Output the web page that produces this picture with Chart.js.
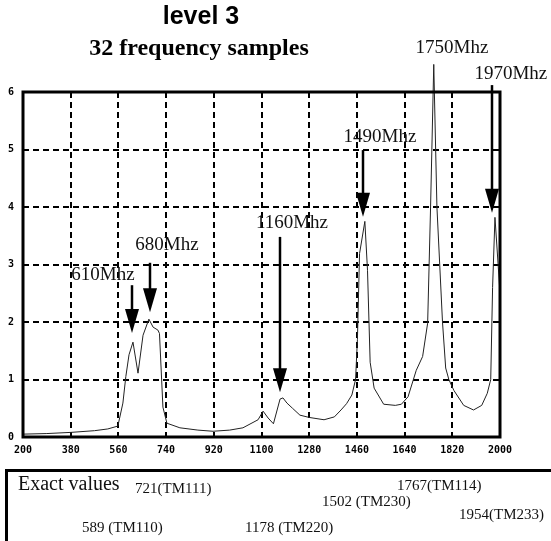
<!DOCTYPE html>
<html>
<head>
<meta charset="utf-8">
<script src="https://cdn.jsdelivr.net/npm/chart.js@4"></script>
<style>
  body { margin: 0; background: #fff; }
  canvas { display: block; }
</style>
</head>
<body>
<canvas id="grafico" width="551" height="541"></canvas>
<script>
// frequency (Mhz) and level
const frecuencias = [200, 290, 380, 470, 520, 558, 577, 588, 600, 615, 634, 653, 675, 691, 709, 715, 728, 743, 792, 860,
    917, 980, 1030, 1087, 1106, 1125, 1145, 1170, 1181, 1196, 1217, 1245, 1280, 1336, 1375, 1400, 1421, 1441, 1455, 1462,
    1470, 1490, 1500, 1510, 1525, 1561, 1605, 1628, 1653, 1684, 1708, 1727, 1738, 1750, 1762, 1783, 1795, 1807, 1826, 1863,
    1900, 1931, 1952, 1965, 1972, 1981, 1990, 2000];
const niveles = [0.05, 0.06, 0.08, 0.11, 0.14, 0.19, 0.59, 1.05, 1.43, 1.65, 1.11, 1.77, 2.05, 1.91, 1.86, 1.80, 0.52, 0.24, 0.16, 0.12,
    0.10, 0.12, 0.16, 0.30, 0.45, 0.33, 0.23, 0.66, 0.68, 0.59, 0.50, 0.38, 0.34, 0.30, 0.35, 0.47, 0.58, 0.73, 1.0, 1.7,
    3.19, 3.75, 2.9, 1.3, 0.85, 0.57, 0.55, 0.57, 0.70, 1.16, 1.40, 1.98, 4.0, 6.48, 4.0, 2.0, 1.2, 1.0, 0.81, 0.55,
    0.47, 0.55, 0.76, 1.0, 2.6, 3.82, 3.2, 2.5];

// peak markers (in chart units): label centre/baseline, arrow x, arrow start, arrow tip
const marcas = [
    { texto: '610Mhz',  tx: 502,  ty: 2.73, ax: 611,  desde: 2.64, hasta: 1.81 },
    { texto: '680Mhz',  tx: 743,  ty: 3.25, ax: 679,  desde: 3.03, hasta: 2.17 },
    { texto: '1160Mhz', tx: 1215, ty: 3.63, ax: 1170, desde: 3.48, hasta: 0.78 },
    { texto: '1490Mhz', tx: 1547, ty: 5.13, ax: 1483, desde: 4.99, hasta: 3.83 },
    { texto: '1750Mhz', tx: 1819, ty: 6.68, ax: null },
    { texto: '1970Mhz', tx: 2041, ty: 6.23, ax: 1970, desde: 6.12, hasta: 3.90 }
];

// "Exact values" box entries
const valoresExactos = ['589 (TM110)', '721(TM111)', '1178 (TM220)', '1502 (TM230)', '1767(TM114)', '1954(TM233)'];
const posValores = [[82, 532], [135, 493], [245, 532], [322, 506], [397, 490], [459, 519]];

const dibujosExtra = {
    id: 'dibujosExtra',
    afterDraw(chart) {
        const ctx = chart.ctx;
        const area = chart.chartArea;
        const sx = chart.scales.x, sy = chart.scales.y;
        ctx.save();

        // plot frame
        ctx.strokeStyle = '#000';
        ctx.lineWidth = 3;
        ctx.strokeRect(area.left, area.top, area.right - area.left, area.bottom - area.top);

        // titles
        ctx.fillStyle = '#000';
        ctx.textAlign = 'center';
        ctx.textBaseline = 'alphabetic';
        ctx.font = 'bold 25px "Liberation Sans", Arial, sans-serif';
        ctx.fillText('level 3', 201, 24);
        ctx.font = 'bold 24px "Liberation Serif", "Times New Roman", serif';
        ctx.fillText('32 frequency samples', 199, 55);

        // peak labels and arrows
        ctx.font = '19px "Liberation Serif", "Times New Roman", serif';
        marcas.forEach(m => {
            ctx.fillStyle = '#111';
            ctx.fillText(m.texto, sx.getPixelForValue(m.tx), sy.getPixelForValue(m.ty));
            if (m.ax === null) return;
            const x = Math.round(sx.getPixelForValue(m.ax));
            const y0 = sy.getPixelForValue(m.desde);
            const y1 = sy.getPixelForValue(m.hasta);
            const largoPunta = 24;
            ctx.strokeStyle = '#000';
            ctx.lineWidth = 2.5;
            ctx.beginPath();
            ctx.moveTo(x, y0);
            ctx.lineTo(x, y1 - largoPunta + 2);
            ctx.stroke();
            ctx.fillStyle = '#000';
            ctx.beginPath();
            ctx.moveTo(x - 7, y1 - largoPunta);
            ctx.lineTo(x + 7, y1 - largoPunta);
            ctx.lineTo(x, y1);
            ctx.closePath();
            ctx.fill();
        });

        // exact values box
        ctx.strokeStyle = '#000';
        ctx.lineWidth = 3;
        ctx.beginPath();
        ctx.moveTo(551, 470.5);
        ctx.lineTo(6.5, 470.5);
        ctx.lineTo(6.5, 541);
        ctx.stroke();
        ctx.textAlign = 'left';
        ctx.fillStyle = '#111';
        ctx.font = '20px "Liberation Serif", "Times New Roman", serif';
        ctx.fillText('Exact values', 18, 490);
        ctx.font = '15px "Liberation Serif", "Times New Roman", serif';
        valoresExactos.forEach((v, i) => ctx.fillText(v, posValores[i][0], posValores[i][1]));

        ctx.restore();
    }
};

const fuenteEjes = { family: '"DejaVu Sans Mono", monospace', size: 10, weight: 'bold' };

new Chart(document.getElementById('grafico').getContext('2d'), {
    type: 'line',
    data: {
        datasets: [{
            data: frecuencias.map((f, i) => ({ x: f, y: niveles[i] })),
            borderColor: '#222',
            borderWidth: 1,
            pointRadius: 0,
            tension: 0,
            fill: false,
            clip: false
        }]
    },
    options: {
        responsive: false,
        animation: false,
        layout: { padding: { top: 92, right: 51, left: 0, bottom: 0 } },
        plugins: {
            legend: { display: false },
            tooltip: { enabled: false },
            title: { display: false }
        },
        scales: {
            x: {
                type: 'linear',
                min: 200,
                max: 2000,
                ticks: {
                    stepSize: 180, autoSkip: false, maxRotation: 0, color: '#000', font: fuenteEjes, padding: 7,
                    callback: valor => String(valor)
                },
                grid: { color: '#000', lineWidth: 2, drawTicks: false },
                border: { display: false, dash: [6, 4] },
                afterFit(escala) { escala.height = 104; }
            },
            y: {
                min: 0,
                max: 6,
                ticks: { stepSize: 1, color: '#000', font: fuenteEjes, padding: 9 },
                grid: { color: '#000', lineWidth: 2, drawTicks: false },
                border: { display: false, dash: [6, 4] },
                afterFit(escala) { escala.width = 23; }
            }
        }
    },
    plugins: [dibujosExtra]
});
</script>
</body>
</html>
